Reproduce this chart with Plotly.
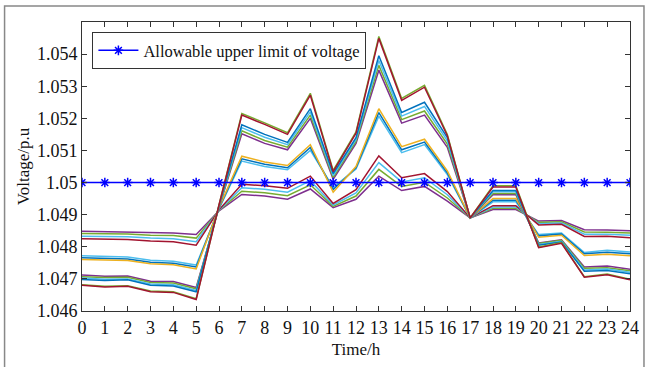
import plotly.graph_objects as go

hours = list(range(25))
x_tick_labels = [str(h) for h in hours]
y_tick_vals = [1.046, 1.047, 1.048, 1.049, 1.05, 1.051, 1.052, 1.053, 1.054]
y_tick_labels = ["1.046", "1.047", "1.048", "1.049", "1.05", "1.051", "1.052", "1.053", "1.054"]

limit_name = "Allowable upper limit of voltage"
limit_values = [1.05] * 25

# group 1 (highest at night)
v1a = [1.04848,1.04847,1.04847,1.04844,1.04843,1.04838,1.04912,1.04963,1.04958,1.04948,1.04980,1.04922,1.04948,1.05020,1.04975,1.04988,1.04942,1.04890,1.04916,1.04916,1.04880,1.04882,1.04853,1.04852,1.04850]
v1b = [1.04841,1.04840,1.04840,1.04836,1.04835,1.04827,1.04913,1.04973,1.04968,1.04959,1.04993,1.04926,1.04958,1.05041,1.04988,1.05001,1.04952,1.04890,1.04920,1.04920,1.04876,1.04878,1.04846,1.04845,1.04843]
v1c = [1.04833,1.04832,1.04831,1.04827,1.04825,1.04816,1.04914,1.04984,1.04979,1.04970,1.05006,1.04930,1.04968,1.05062,1.05002,1.05015,1.04962,1.04890,1.04924,1.04924,1.04872,1.04874,1.04839,1.04839,1.04836]
v1d = [1.04825,1.04824,1.04823,1.04818,1.04816,1.04805,1.04915,1.04995,1.04990,1.04982,1.05020,1.04935,1.04978,1.05083,1.05015,1.05028,1.04972,1.04890,1.04928,1.04928,1.04868,1.04870,1.04832,1.04833,1.04828]
# group 2
v2a = [1.04772,1.04771,1.04768,1.04758,1.04755,1.04743,1.04918,1.05067,1.05050,1.05040,1.05100,1.04985,1.05042,1.05207,1.05093,1.05118,1.05025,1.04890,1.04940,1.04940,1.04838,1.04843,1.04782,1.04789,1.04784]
v2b = [1.04766,1.04765,1.04762,1.04752,1.04749,1.04737,1.04920,1.05074,1.05057,1.05046,1.05109,1.04978,1.05046,1.05218,1.05102,1.05126,1.05030,1.04890,1.04945,1.04945,1.04834,1.04840,1.04778,1.04783,1.04778]
v2c = [1.04760,1.04759,1.04757,1.04747,1.04744,1.04731,1.04922,1.05082,1.05064,1.05053,1.05118,1.04970,1.05050,1.05230,1.05112,1.05135,1.05036,1.04890,1.04950,1.04950,1.04830,1.04836,1.04773,1.04777,1.04772]
# group 3
v3a = [1.04712,1.04708,1.04709,1.04693,1.04692,1.04673,1.04922,1.05152,1.05122,1.05102,1.05200,1.05010,1.05122,1.05350,1.05185,1.05210,1.05110,1.04890,1.04962,1.04962,1.04812,1.04822,1.04737,1.04740,1.04730]
v3b = [1.04707,1.04704,1.04705,1.04689,1.04687,1.04669,1.04924,1.05161,1.05131,1.05110,1.05210,1.05016,1.05128,1.05365,1.05196,1.05223,1.05120,1.04890,1.04966,1.04966,1.04810,1.04820,1.04733,1.04735,1.04725]
v3c = [1.04703,1.04699,1.04700,1.04684,1.04682,1.04664,1.04926,1.05171,1.05141,1.05118,1.05220,1.05022,1.05134,1.05380,1.05207,1.05237,1.05130,1.04890,1.04971,1.04971,1.04807,1.04817,1.04728,1.04731,1.04721]
v3d = [1.04698,1.04695,1.04697,1.04680,1.04678,1.04660,1.04928,1.05180,1.05150,1.05125,1.05230,1.05028,1.05140,1.05395,1.05218,1.05250,1.05140,1.04890,1.04975,1.04975,1.04805,1.04815,1.04724,1.04726,1.04716]
# group 4 (lowest at night)
v4a = [1.04682,1.04677,1.04679,1.04662,1.04660,1.04638,1.04930,1.05215,1.05186,1.05155,1.05278,1.05038,1.05158,1.05455,1.05262,1.05303,1.05150,1.04890,1.04990,1.04990,1.04799,1.04813,1.04707,1.04715,1.04699]
v4b = [1.04680,1.04675,1.04677,1.04660,1.04658,1.04636,1.04930,1.05210,1.05181,1.05150,1.05272,1.05034,1.05154,1.05449,1.05256,1.05297,1.05146,1.04890,1.04986,1.04986,1.04797,1.04811,1.04705,1.04713,1.04697]

series = [v1a, v1b, v1c, v1d, v2a, v2b, v2c, v3a, v3b, v3c, v3d, v4a, v4b]
colors = ["#7E2F8E", "#77AC30", "#4DBEEE", "#A2142F",
          "#4DBEEE", "#0072BD", "#EDB120",
          "#7E2F8E", "#77AC30", "#4DBEEE", "#0072BD",
          "#77AC30", "#A2142F"]

fig = go.Figure()
for vals, c in zip(series, colors):
    fig.add_trace(go.Scatter(x=hours, y=vals, mode="lines",
                             line=dict(color=c, width=1.5), showlegend=False))

fig.add_trace(go.Scatter(x=hours, y=limit_values, mode="lines+markers", name=limit_name,
                         line=dict(color="#0000FF", width=1.5),
                         marker=dict(symbol="asterisk-open", size=8,
                                     line=dict(color="#0000FF", width=1.5))))

font_family = "Liberation Serif, Times New Roman, serif"
axis_common = dict(showline=True, linecolor="#333", linewidth=1, mirror="ticks",
                   ticks="inside", ticklen=5, tickcolor="#333", showgrid=False,
                   zeroline=False, automargin=False,
                   tickfont=dict(family=font_family, size=18, color="#111"))

fig.update_layout(
    width=647, height=367,
    margin=dict(l=81.5, r=17, t=22, b=55.5, autoexpand=False),
    paper_bgcolor="white", plot_bgcolor="white",
    font=dict(family=font_family, color="#111"),
    xaxis=dict(range=[0, 24], tickvals=hours, ticktext=x_tick_labels,
               title=dict(text="Time/h", font=dict(family=font_family, size=17), standoff=6),
               **axis_common),
    yaxis=dict(range=[1.046, 1.055], tickvals=y_tick_vals, ticktext=y_tick_labels,
               title=dict(text="Voltage/p.u", font=dict(family=font_family, size=17), standoff=2),
               **axis_common),
    legend=dict(x=0.019, y=0.965, xanchor="left", yanchor="top",
                bgcolor="white", bordercolor="#333", borderwidth=1,
                font=dict(family=font_family, size=16.5, color="#111"),
                itemwidth=40),
    shapes=[dict(type="rect", xref="paper", yref="paper",
                 x0=-0.1413, x1=1.0255, y0=-0.5, y1=1.0553,
                 line=dict(color="#888", width=1.5), fillcolor="rgba(0,0,0,0)", layer="below")],
)

fig.write_html("out.html", config={"displayModeBar": False},
               post_script="document.body.style.margin='0px';document.body.style.overflow='hidden';")
